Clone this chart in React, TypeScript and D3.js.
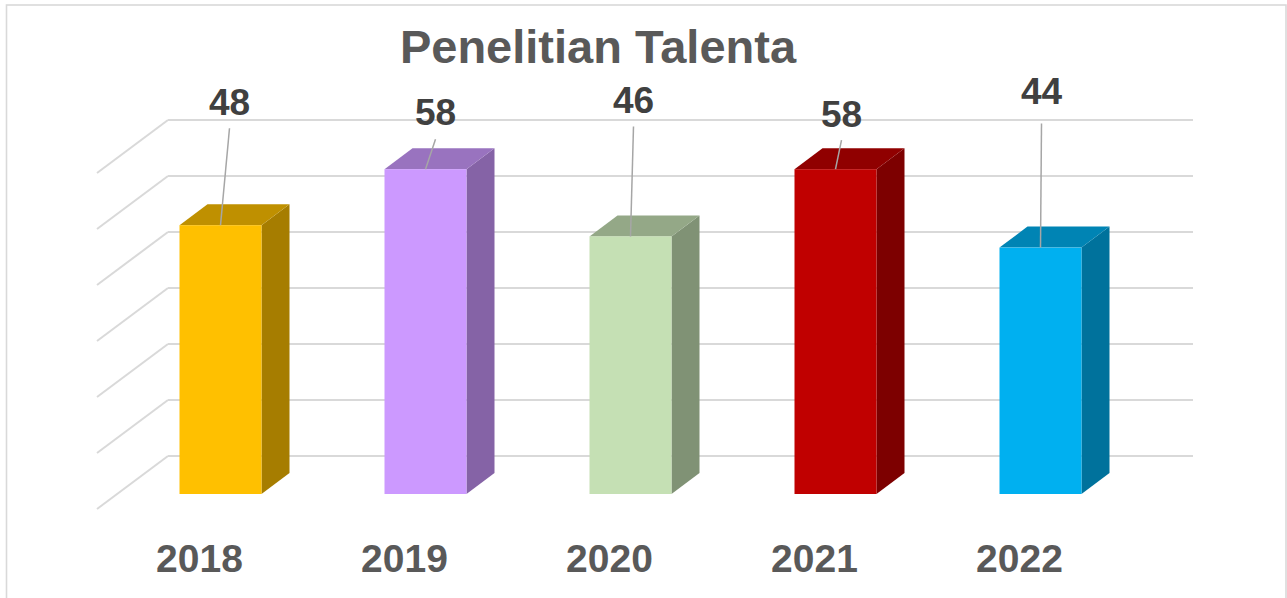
import React from "react";
import * as d3 from "d3";

const categories = ["2018", "2019", "2020", "2021", "2022"];
const values = [48, 58, 46, 58, 44];
const barColors = ["#FFC000", "#CC99FF", "#C5E0B4", "#C00000", "#00B0F0"];
const gridTicks = [0, 10, 20, 30, 40, 50, 60];
const title = "Penelitian Talenta";

// layout of manually-placed data labels (pixel offsets from bar top-front centre)
const labelLayout = [
  { dx: 9, dy: -110, lx: 9, ly: -97 },
  { dx: 10, dy: -44, lx: 10, ly: -30 },
  { dx: 3, dy: -123, lx: 3, ly: -110 },
  { dx: 6, dy: -42, lx: 6, ly: -29 },
  { dx: 1, dy: -144, lx: 1, ly: -124 },
];

function shade(c: string, k: number) {
  const r = d3.rgb(c);
  return d3.rgb(r.r * k, r.g * k, r.b * k).formatHex();
}

export default function App() {
  const W = 1287;
  const H = 598;
  const backLeft = 168;
  const backRight = 1193;
  const y = d3.scaleLinear().domain([0, 60]).range([456, 120]);
  const x = d3.scaleBand<string>().domain(categories).range([backLeft, backRight]).paddingInner(0.6).paddingOuter(0.3);
  // depth geometry
  const depthDx = -71;
  const depthDy = 53;
  const frontDx = -50;
  const frontDy = 38;
  const barDepthDx = 28;
  const barDepthDy = -21;
  const font = "'Liberation Sans', Arial, sans-serif";

  return (
    <svg width={W} height={H} style={{ position: "absolute", left: 0, top: 0, background: "#fff" }}>
      <rect x={6.5} y={5} width={1279.5} height={620} fill="#fff" stroke="#d9d9d9" strokeWidth={1.6} />
      <text x={598} y={63} textAnchor="middle" fontFamily={font} fontWeight="bold" fontSize={47} fill="#595959">
        {title}
      </text>
      {gridTicks.map((t) => (
        <g key={t}>
          <line x1={backLeft} x2={backRight} y1={y(t)} y2={y(t)} stroke="#d9d9d9" strokeWidth={2} />
          <line x1={backLeft} x2={backLeft + depthDx} y1={y(t)} y2={y(t) + depthDy} stroke="#d9d9d9" strokeWidth={2} />
        </g>
      ))}
      {categories.map((c, i) => {
        const v = values[i];
        const x0 = (x(c) as number) + frontDx;
        const w = x.bandwidth();
        const yTop = y(v) + frontDy;
        const yBot = y(0) + frontDy;
        const col = barColors[i];
        const top = shade(col, 0.75);
        const side = shade(col, 0.65);
        const cx = x0 + w / 2;
        const L = labelLayout[i];
        return (
          <g key={c}>
            <path d={`M${x0 + w},${yTop} L${x0 + w + barDepthDx},${yTop + barDepthDy} L${x0 + w + barDepthDx},${yBot + barDepthDy} L${x0 + w},${yBot} Z`} fill={side} />
            <path d={`M${x0},${yTop} L${x0 + barDepthDx},${yTop + barDepthDy} L${x0 + w + barDepthDx},${yTop + barDepthDy} L${x0 + w},${yTop} Z`} fill={top} />
            <rect x={x0} y={yTop} width={w} height={yBot - yTop} fill={col} />
            <line x1={cx} y1={yTop} x2={cx + L.lx} y2={yTop + L.ly} stroke="#a6a6a6" strokeWidth={1.5} />
            <text x={cx + L.dx} y={yTop + L.dy} textAnchor="middle" fontFamily={font} fontWeight="bold" fontSize={37} fill="#404040">
              {v}
            </text>
            <text x={(x(c) as number) + w / 2 + depthDx} y={572} textAnchor="middle" fontFamily={font} fontWeight="bold" fontSize={39} fill="#595959">
              {c}
            </text>
          </g>
        );
      })}
    </svg>
  );
}
